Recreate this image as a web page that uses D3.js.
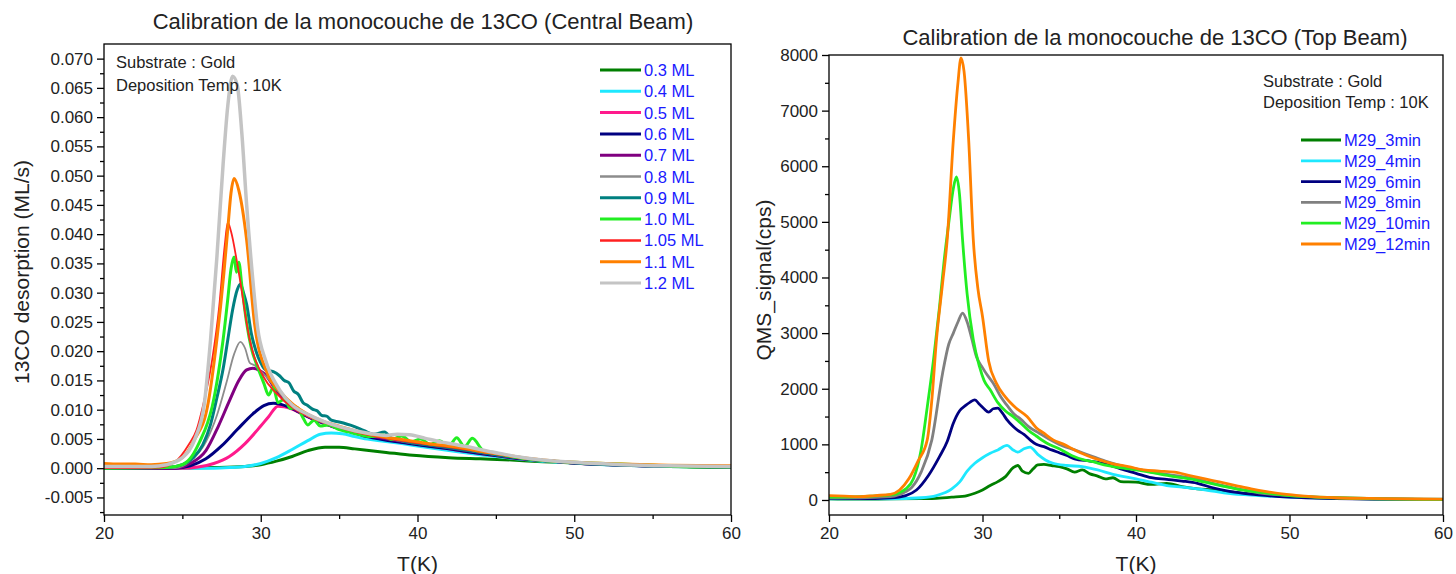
<!DOCTYPE html>
<html>
<head>
<meta charset="utf-8">
<script src="https://cdn.jsdelivr.net/npm/d3@7/dist/d3.min.js"></script>
<style>
  body { margin: 0; background: #fff; }
  svg { font-family: "Liberation Sans", Arial, sans-serif; }
  .axis path, .axis line { stroke: #000; stroke-width: 1.3px; }
  .axis text { font-size: 17px; fill: #222; }
</style>
</head>
<body>
<div id="grafica"></div>
<script>
// ---- datos: grafica izquierda (Central Beam), [T(K), ML/s]
const leftNames = ["0.3 ML", "0.4 ML", "0.5 ML", "0.6 ML", "0.7 ML", "0.8 ML", "0.9 ML", "1.0 ML", "1.05 ML", "1.1 ML", "1.2 ML"];
const leftColors = ["#007f00", "#1ee8ff", "#ff1a8c", "#000080", "#800080", "#8c8c8c", "#008080", "#22ee22", "#ff2020", "#ff8000", "#c4c4c4"];
const leftWidths = [3, 3, 3, 3, 3, 1.8, 3, 3, 1.8, 3, 3.5];

const ml03 = [[20,0],[24,0],[27,0.0001],[29,0.0003],[30,0.0006],[31,0.0012],[32,0.002],[33,0.003],[34.1,0.0036],[35,0.0036],[36,0.0033],[38,0.0027],[39.7,0.0022],[42,0.0018],[44,0.0016],[46,0.0014],[48,0.0011],[50,0.0009],[53,0.0006],[56,0.0003],[60,0.0002]];
const ml04 = [[20,0],[27,0],[28,0.0001],[29,0.0003],[30,0.0008],[31,0.0018],[32,0.0032],[33,0.0047],[33.8,0.0058],[34.5,0.006],[35.2,0.0059],[36,0.0054],[36.5,0.0051],[37.6,0.0047],[39,0.0042],[40,0.0038],[42,0.003],[44,0.0023],[46,0.0017],[48,0.0012],[50,0.0009],[53,0.0005],[56,0.0003],[60,0.0002]];
const ml05 = [[20,0],[25,0],[26,0.0002],[27,0.0008],[28,0.002],[29,0.0042],[30,0.0072],[30.5,0.0088],[31.1,0.0106],[31.5,0.0105],[32,0.0101],[33,0.0088],[33.5,0.0082],[34.5,0.0072],[35.5,0.0064],[36.5,0.0057],[37.6,0.0051],[39,0.0045],[40,0.0041],[42,0.0033],[44,0.0025],[46,0.0018],[48,0.0013],[50,0.0009],[55,0.0004],[60,0.0002]];
const ml06 = [[20,0],[24.5,0],[25.5,0.0004],[26.5,0.0016],[27.5,0.0038],[28.5,0.0066],[29.5,0.0093],[30.2,0.0107],[30.8,0.0111],[31.3,0.0109],[31.9,0.0103],[33,0.0088],[33.5,0.0082],[34.5,0.0072],[35.5,0.0064],[36.5,0.0056],[37.6,0.005],[38.7,0.0045],[40,0.004],[42,0.0033],[44,0.0025],[46,0.0018],[48,0.0013],[50,0.0009],[55,0.0004],[60,0.0001]];
const ml07 = [[20,0],[24.5,0],[25.5,0.0008],[26.5,0.003],[27.3,0.0072],[28,0.0115],[28.6,0.015],[29.1,0.0168],[29.5,0.0171],[29.9,0.0167],[30.3,0.016],[31,0.0132],[32,0.0104],[33,0.0089],[33.5,0.0083],[34.5,0.0073],[35.5,0.0065],[36.5,0.0058],[37.6,0.0052],[39,0.0046],[40,0.0042],[42,0.0035],[44,0.0027],[46,0.0019],[48,0.0013],[50,0.0009],[55,0.0004],[60,0.0002]];
const ml08 = [[20,0],[24.5,0],[25.5,0.0012],[26.5,0.0045],[27.2,0.009],[27.8,0.0145],[28.3,0.0195],[28.7,0.0216],[29,0.0205],[29.3,0.018],[29.6,0.0176],[30,0.0166],[30.5,0.0152],[31,0.0135],[32,0.0106],[33,0.0089],[34.5,0.0073],[35.5,0.0065],[36.5,0.0058],[37.6,0.0053],[39,0.0046],[40,0.0042],[42,0.0035],[44,0.0027],[46,0.0019],[48,0.0013],[50,0.0009],[55,0.0004],[60,0.0002]];
const ml09 = [[20,0],[24,0.0001],[25,0.0006],[25.7,0.0018],[26.3,0.004],[26.8,0.0075],[27.2,0.012],[27.6,0.017],[27.9,0.022],[28.2,0.027],[28.5,0.0305],[28.7,0.0315],[28.9,0.030],[29.1,0.028],[29.4,0.023],[29.7,0.020],[30,0.018],[30.3,0.0168],[30.8,0.0165],[31.2,0.0158],[31.5,0.015],[31.8,0.0146],[32.1,0.0132],[32.4,0.0126],[32.7,0.0112],[32.95,0.0108],[33.3,0.0101],[33.6,0.0098],[33.9,0.009],[34.2,0.0089],[34.5,0.0082],[35,0.0079],[35.9,0.0072],[36.6,0.0064],[37.2,0.0058],[37.9,0.0062],[38.3,0.0052],[39,0.0047],[40,0.0042],[41.5,0.0037],[43,0.0031],[44.5,0.0025],[46,0.0019],[48,0.0013],[50,0.0009],[53,0.0005],[56,0.0003],[60,0.0002]];
const ml10 = [[20,0],[24,0.0001],[25,0.0006],[25.6,0.002],[26.1,0.0045],[26.6,0.0077],[26.9,0.0105],[27.3,0.0163],[27.6,0.022],[27.9,0.029],[28.1,0.034],[28.3,0.0361],[28.45,0.0335],[28.6,0.0352],[28.8,0.031],[29.1,0.0248],[29.4,0.0205],[29.8,0.0173],[30.2,0.0145],[30.5,0.0125],[30.8,0.0138],[31.1,0.0112],[31.5,0.0118],[31.9,0.0102],[32.3,0.0104],[32.7,0.0086],[33,0.0074],[33.4,0.0082],[33.8,0.0072],[34.3,0.0074],[35,0.0066],[35.6,0.0062],[36.2,0.0058],[37,0.0054],[37.8,0.0057],[38.3,0.0049],[39,0.0055],[39.6,0.0045],[40.2,0.005],[40.8,0.0041],[41.4,0.0047],[42,0.0038],[42.5,0.0052],[43,0.0037],[43.5,0.0051],[44.2,0.003],[45,0.0026],[46,0.002],[47,0.0016],[48,0.0013],[50,0.001],[52,0.0008],[55,0.0005],[58,0.0002],[60,0.0002]];
const ml105 = [[20,0],[23.5,0.0001],[24.5,0.001],[25.4,0.004],[25.9,0.0065],[26.3,0.0105],[26.9,0.0185],[27.35,0.0276],[27.7,0.038],[27.9,0.042],[28.1,0.0405],[28.6,0.0334],[29.3,0.0219],[30.2,0.0155],[31,0.0128],[32,0.0104],[33,0.0089],[34.5,0.0074],[36,0.0062],[38,0.0051],[40,0.0043],[42,0.0036],[44,0.0028],[46,0.002],[48,0.0014],[50,0.001],[55,0.0005],[60,0.0002]];
const ml11 = [[20,0.0008],[21,0.0007],[22,0.0007],[23,0.0006],[24,0.0008],[25,0.0018],[25.8,0.005],[26.6,0.0105],[27.2,0.022],[27.65,0.0334],[27.9,0.041],[28.1,0.047],[28.3,0.0495],[28.6,0.0475],[29.1,0.039],[29.6,0.0248],[30.4,0.0163],[31.2,0.0132],[32.1,0.0108],[33,0.0092],[34,0.008],[35,0.0072],[36,0.0064],[37,0.0058],[38,0.0053],[39,0.0049],[40,0.0045],[41,0.0041],[42,0.0038],[43,0.0034],[44,0.0029],[45,0.0025],[46,0.0021],[47,0.0017],[48,0.0014],[50,0.001],[53,0.0007],[56,0.0005],[60,0.0004]];
const ml12 = [[20,0.0003],[23,0.0003],[24,0.0006],[25,0.0018],[25.8,0.005],[26.4,0.011],[26.8,0.022],[27.2,0.036],[27.6,0.052],[27.9,0.062],[28.2,0.067],[28.5,0.0655],[28.8,0.057],[29.1,0.045],[29.5,0.032],[29.8,0.024],[30.3,0.0185],[31.2,0.0134],[32,0.0108],[33,0.0092],[34,0.008],[35,0.0071],[36,0.0064],[37,0.0059],[38,0.0056],[38.7,0.0058],[39.5,0.0057],[40.5,0.0051],[41.5,0.0045],[42.5,0.004],[43.5,0.0035],[44.5,0.0029],[45.5,0.0024],[46.5,0.0019],[48,0.0014],[50,0.001],[53,0.0006],[56,0.0004],[60,0.0003]];
const leftSeries = [ml03, ml04, ml05, ml06, ml07, ml08, ml09, ml10, ml105, ml11, ml12];

// ---- datos: grafica derecha (Top Beam), [T(K), cps]
const rightNames = ["M29_3min", "M29_4min", "M29_6min", "M29_8min", "M29_10min", "M29_12min"];
const rightColors = ["#007f00", "#1ee8ff", "#000080", "#808080", "#22ee22", "#ff8000"];

const m3 = [[20,20],[22,15],[24,20],[26,25],[27,30],[28,50],[29,80],[29.5,120],[30,180],[30.5,260],[31,330],[31.5,420],[32,580],[32.3,620],[32.6,520],[33,480],[33.3,560],[33.6,630],[34,640],[34.5,620],[35,600],[35.5,560],[36,500],[36.5,540],[37,470],[37.5,430],[38,380],[38.5,400],[39,330],[40,320],[41,280],[42,300],[43,240],[44,200],[45,180],[46,150],[47,120],[48,100],[50,60],[53,30],[56,15],[60,10]];
const m4 = [[20,20],[24,20],[26,40],[27,80],[28,200],[28.5,320],[29,520],[29.5,660],[30,760],[30.5,840],[31,900],[31.6,980],[32,900],[32.3,860],[32.7,920],[33.1,950],[33.6,820],[34.1,720],[34.6,660],[35.5,620],[36.5,600],[37.5,540],[38.5,460],[40,380],[41,320],[42,260],[43,230],[44,200],[45,160],[46,120],[48,80],[50,50],[53,30],[56,20],[60,15]];
const m6 = [[20,30],[22,25],[24,40],[25,80],[25.7,180],[26.5,450],[27.2,780],[27.7,1050],[28.1,1380],[28.5,1600],[28.9,1700],[29.2,1760],[29.5,1800],[29.8,1720],[30.1,1640],[30.4,1580],[30.7,1640],[31,1650],[31.3,1560],[31.6,1440],[32,1320],[32.3,1250],[32.7,1180],[33.1,1080],[33.5,1000],[34,960],[34.5,900],[35,850],[35.5,800],[36,740],[37,700],[38,650],[39,560],[40,480],[41,400],[42,370],[43,340],[44,300],[45,220],[46,160],[47,120],[48,90],[50,50],[53,25],[56,15],[60,10]];
const m8 = [[20,40],[22,40],[24,60],[25,150],[25.4,230],[26,500],[26.7,1080],[27.4,2280],[27.8,2800],[28.1,3000],[28.4,3200],[28.7,3360],[29,3200],[29.3,2900],[29.6,2580],[30,2380],[30.3,2250],[30.7,2100],[31.2,1850],[31.6,1700],[32,1560],[32.5,1450],[33,1320],[33.7,1200],[34.3,1100],[35,1000],[36,900],[37,800],[38,700],[39,620],[40,560],[41,500],[42,460],[43,420],[44,370],[45,300],[46,240],[47,180],[48,130],[50,80],[53,40],[56,20],[60,10]];
const m10 = [[20,50],[22,60],[24,90],[25,200],[25.5,380],[26,900],[26.4,1670],[26.8,2500],[27.2,3470],[27.5,4300],[27.8,4980],[28.1,5600],[28.3,5810],[28.5,5500],[28.7,4680],[29,3700],[29.4,2880],[29.8,2400],[30.1,2150],[30.5,1980],[31,1750],[31.5,1600],[32,1500],[32.5,1380],[33,1250],[33.5,1150],[34.2,1020],[35,920],[35.8,800],[36.6,720],[37.2,690],[37.8,640],[38.5,600],[39.5,560],[40.5,520],[41.5,470],[42.5,420],[43.5,380],[44.5,320],[45.5,260],[46.5,200],[48,140],[50,80],[53,40],[56,20],[60,10]];
const m12 = [[20,80],[21,70],[22,60],[23,80],[24,100],[24.6,180],[25.2,380],[25.8,700],[26.4,1080],[26.7,1800],[27,2880],[27.4,3900],[27.7,4680],[28.1,6470],[28.4,7500],[28.6,7950],[28.8,7700],[29.1,6470],[29.4,4680],[29.7,3800],[30,3300],[30.4,2500],[30.9,2100],[31.5,1850],[32.2,1650],[32.9,1500],[33.5,1300],[34,1200],[34.6,1080],[35.3,1000],[36,900],[36.8,800],[37.6,720],[38.5,650],[39.5,600],[40.5,540],[41.5,520],[42.5,500],[43.5,440],[44.5,380],[45.5,320],[46.5,260],[47.5,200],[48.5,150],[49.5,110],[51,70],[53,40],[56,25],[60,15]];
const rightSeries = [m3, m4, m6, m8, m10, m12];

// ---- ticks
const xTicks = [20, 30, 40, 50, 60];
const xMinor = [25, 35, 45, 55];
const leftYTicks = [-0.005, 0, 0.005, 0.010, 0.015, 0.020, 0.025, 0.030, 0.035, 0.040, 0.045, 0.050, 0.055, 0.060, 0.065, 0.070];
const leftYMinor = [-0.0075, -0.0025, 0.0025, 0.0075, 0.0125, 0.0175, 0.0225, 0.0275, 0.0325, 0.0375, 0.0425, 0.0475, 0.0525, 0.0575, 0.0625, 0.0675];
const rightYTicks = [0, 1000, 2000, 3000, 4000, 5000, 6000, 7000, 8000];
const rightYMinor = [500, 1500, 2500, 3500, 4500, 5500, 6500, 7500];

const notes = ["Substrate : Gold", "Deposition Temp : 10K"];

const W = 1456, H = 574;
const fmt = d3.formatLocale({decimal: ".", thousands: "", grouping: [3], currency: ["", ""], minus: "-"});

const svg = d3.select("#grafica").append("svg")
  .attr("width", W)
  .attr("height", H);

function drawPanel(cfg) {
  const x = d3.scaleLinear().domain([20, 60]).range([cfg.x0, cfg.x1]);
  const y = d3.scaleLinear().domain(cfg.yDomain).range([cfg.y1, cfg.y0]);
  const g = svg.append("g");

  // lineas
  const line = d3.line()
    .x(d => x(d[0]))
    .y(d => y(d[1]))
    .curve(d3.curveMonotoneX);
  g.append("g").selectAll("path")
    .data(cfg.series).enter()
    .append("path")
    .attr("d", d => line(d))
    .attr("fill", "none")
    .attr("stroke", (d, i) => cfg.colors[i])
    .attr("stroke-width", (d, i) => cfg.widths[i])
    .attr("stroke-linejoin", "round");

  // marco
  g.append("rect")
    .attr("x", cfg.x0).attr("y", cfg.y0)
    .attr("width", cfg.x1 - cfg.x0).attr("height", cfg.y1 - cfg.y0)
    .attr("fill", "none").attr("stroke", "#000").attr("stroke-width", 1.3);

  // ejes
  g.append("g").attr("class", "axis")
    .attr("transform", `translate(0, ${cfg.y1})`)
    .call(d3.axisBottom(x).tickValues(xTicks).tickSize(7).tickPadding(5).tickFormat(d3.format("d")));
  g.append("g").attr("class", "axis")
    .attr("transform", `translate(0, ${cfg.y1})`)
    .call(d3.axisBottom(x).tickValues(xMinor).tickSize(4).tickFormat(""));
  g.append("g").attr("class", "axis")
    .attr("transform", `translate(${cfg.x0}, 0)`)
    .call(d3.axisLeft(y).tickValues(cfg.yTicks).tickSize(7).tickPadding(4).tickFormat(cfg.yFormat));
  g.append("g").attr("class", "axis")
    .attr("transform", `translate(${cfg.x0}, 0)`)
    .call(d3.axisLeft(y).tickValues(cfg.yMinor).tickSize(4).tickFormat(""));
  g.selectAll(".axis .domain").remove();

  // titulos
  g.append("text")
    .attr("x", cfg.titleX).attr("y", cfg.titleY)
    .attr("text-anchor", "middle")
    .style("font-size", "22px").attr("fill", "#222")
    .text(cfg.title);
  g.append("text")
    .attr("x", (cfg.x0 + cfg.x1) / 2).attr("y", 571)
    .attr("text-anchor", "middle")
    .style("font-size", "21px").attr("fill", "#222")
    .text("T(K)");
  g.append("text")
    .attr("transform", `translate(${cfg.yLabelX}, ${cfg.yLabelY}) rotate(-90)`)
    .attr("text-anchor", "middle")
    .style("font-size", "21px").attr("fill", "#222")
    .text(cfg.yLabel);

  // notas
  g.selectAll(".nota")
    .data(notes).enter()
    .append("text")
    .attr("x", cfg.noteX)
    .attr("y", (d, i) => cfg.noteY + i * cfg.noteStep)
    .style("font-size", "16.5px").attr("fill", "#222")
    .text(d => d);

  // leyenda
  const leg = g.append("g").selectAll("g")
    .data(cfg.names).enter()
    .append("g")
    .attr("transform", (d, i) => `translate(${cfg.legX}, ${cfg.legY + i * cfg.legStep})`);
  leg.append("line")
    .attr("x1", 0).attr("x2", cfg.legLen)
    .attr("stroke", (d, i) => cfg.colors[i])
    .attr("stroke-width", (d, i) => Math.max(2.5, Math.min(3, cfg.widths[i])));
  leg.append("text")
    .attr("x", cfg.legLen + 3).attr("y", 6)
    .style("font-size", "16.5px").attr("fill", "#1a1aff")
    .text(d => d);
}

drawPanel({
  x0: 104, x1: 731, y0: 44, y1: 515,
  yDomain: [-0.008, 0.0725],
  series: leftSeries, colors: leftColors, widths: leftWidths, names: leftNames,
  yTicks: leftYTicks, yMinor: leftYMinor, yFormat: fmt.format(".3f"),
  title: "Calibration de la monocouche de 13CO (Central Beam)", titleX: 423, titleY: 29,
  yLabel: "13CO desorption (ML/s)", yLabelX: 29, yLabelY: 272,
  noteX: 116, noteY: 68, noteStep: 23,
  legX: 600, legY: 70, legStep: 21.3, legLen: 41
});

drawPanel({
  x0: 829, x1: 1443, y0: 55, y1: 515,
  yDomain: [-270, 8000],
  series: rightSeries, colors: rightColors, widths: [2.8, 2.8, 2.8, 2.8, 2.8, 2.8], names: rightNames,
  yTicks: rightYTicks, yMinor: rightYMinor, yFormat: d3.format("d"),
  title: "Calibration de la monocouche de 13CO (Top Beam)", titleX: 1155, titleY: 45,
  yLabel: "QMS_signal(cps)", yLabelX: 771, yLabelY: 280,
  noteX: 1263, noteY: 87, noteStep: 21,
  legX: 1301, legY: 140, legStep: 20.8, legLen: 40
});
</script>
</body>
</html>
